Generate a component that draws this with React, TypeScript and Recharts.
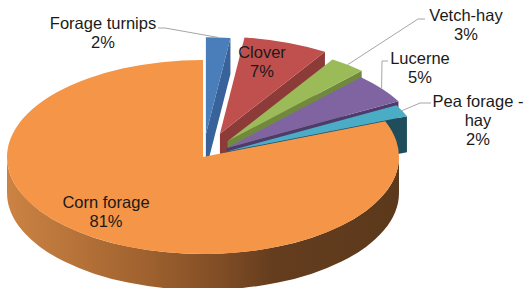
import { PieChart, Pie } from "recharts"

// slice data, clockwise from 12 o'clock
const categories = ["Forage turnips", "Clover", "Vetch-hay", "Lucerne", "Pea forage - hay", "Corn forage"]
const shares = [2, 7, 3, 5, 2, 81]

// styling
const topColors = ["#4a7ebb", "#c0504d", "#9bbb59", "#8064a2", "#4bacc6", "#f49547"]
const sideColors = ["#38629a", "#8c3b39", "#708a3d", "#4f3a6c", "#1f4d5c", "#a8652e"]
const explode = [46, 50, 40, 30, 24, 0]

// where each data label sits (first baseline), plus optional leader start
const labelLayout = [
  { x: 103, y: 29, wrap: 20, from: [158, 28], elbow: [165, 28] },
  { x: 262, y: 58, wrap: 20 },
  { x: 466, y: 21, wrap: 20, from: [425, 19], elbow: [418, 19] },
  { x: 420, y: 64, wrap: 20, from: [388, 61], elbow: [382, 61] },
  { x: 478, y: 107, wrap: 12, from: [431, 103], elbow: [420, 103] },
  { x: 106, y: 208, wrap: 20 },
]

const data = categories.map((name, i) => ({ name, value: shares[i] }))

const RAD = Math.PI / 180
const TILT = 0.495
const DEPTH = 36
const FONT = "'Liberation Sans', Arial, sans-serif"

function pt(cx: number, cy: number, r: number, a: number, dz = 0) {
  return [cx + r * Math.cos(a * RAD), cy - r * TILT * Math.sin(a * RAD) + dz]
}

// centre of a slice after it has been pulled out
function sliceCenter(p: any) {
  const e = explode[p.index] || 0
  return [p.cx + e * Math.cos(p.midAngle * RAD), p.cy - e * TILT * Math.sin(p.midAngle * RAD)]
}

function wrapText(text: string, max: number) {
  const out: string[] = []
  let line = ""
  text.split(" ").forEach((w) => {
    const next = line ? line + " " + w : w
    if (next.length > max && line) {
      out.push(line)
      line = w
    } else line = next
  })
  if (line) out.push(line)
  return out
}

// radial cut faces that look towards the viewer
function renderFaces(p: any) {
  const [cx, cy] = sliceCenter(p)
  const r = p.outerRadius
  const a1 = p.startAngle
  const a2 = p.endAngle
  const faces: number[] = []
  if (Math.cos(a1 * RAD) < -0.001) faces.push(a1)
  if (Math.cos(a2 * RAD) > 0.001) faces.push(a2)
  return (
    <g key={`f${p.index}`}>
      {faces.map((a) => {
        const [x, y] = pt(cx, cy, r, a)
        return (
          <path
            key={a}
            d={`M${cx},${cy} L${x},${y} L${x},${y + DEPTH} L${cx},${cy + DEPTH} Z`}
            fill={sideColors[p.index]}
          />
        )
      })}
    </g>
  )
}

// outer rim, only the front half can be seen
function renderWalls(p: any) {
  const [cx, cy] = sliceCenter(p)
  const r = p.outerRadius
  const ry = r * TILT
  const a1 = p.startAngle
  const a2 = p.endAngle
  const parts: string[] = []
  for (let k = -1; k <= 1; k++) {
    const lo = Math.max(a2, -180 + 360 * k)
    const hi = Math.min(a1, 360 * k)
    if (hi - lo > 0.01) {
      const [x1, y1] = pt(cx, cy, r, hi)
      const [x2, y2] = pt(cx, cy, r, lo)
      const large = hi - lo > 180 ? 1 : 0
      parts.push(
        `M${x1},${y1} A${r},${ry} 0 ${large} 1 ${x2},${y2} L${x2},${y2 + DEPTH} A${r},${ry} 0 ${large} 0 ${x1},${y1 + DEPTH} Z`
      )
    }
  }
  return (
    <g key={`w${p.index}`}>
      {parts.map((d, j) => (
        <path key={j} d={d} fill={p.index === 5 ? "url(#cornWall)" : sideColors[p.index]} />
      ))}
    </g>
  )
}

function renderTops(p: any) {
  const [cx, cy] = sliceCenter(p)
  const r = p.outerRadius
  const a1 = p.startAngle
  const a2 = p.endAngle
  const [x1, y1] = pt(cx, cy, r, a1)
  const [x2, y2] = pt(cx, cy, r, a2)
  const large = a1 - a2 > 180 ? 1 : 0
  return (
    <path
      key={`t${p.index}`}
      d={`M${cx},${cy} L${x1},${y1} A${r},${r * TILT} 0 ${large} 1 ${x2},${y2} Z`}
      fill={topColors[p.index]}
    />
  )
}

function renderLabels(p: any) {
  const lay = labelLayout[p.index]
  const lines = [...wrapText(p.name, lay.wrap), `${Math.round(p.percent * 100)}%`]
  let leader = null
  if (lay.from) {
    const [cx, cy] = sliceCenter(p)
    const [ex, ey] = pt(cx, cy, p.outerRadius, p.midAngle)
    leader = (
      <polyline
        points={`${lay.from[0]},${lay.from[1]} ${lay.elbow[0]},${lay.elbow[1]} ${ex},${ey}`}
        fill="none"
        stroke="#a6a6a6"
        strokeWidth={1}
      />
    )
  }
  return (
    <g key={`l${p.index}`}>
      {leader}
      <text x={lay.x} y={lay.y} textAnchor="middle" fontFamily={FONT} fontSize={16.5} fill="#1a1a1a">
        {lines.map((t, j) => (
          <tspan key={j} x={lay.x} dy={j === 0 ? 0 : 18.8}>
            {t}
          </tspan>
        ))}
      </text>
    </g>
  )
}

const layers = [renderFaces, renderWalls, renderTops, renderLabels]

export default function App() {
  return (
    <div style={{ width: 525, height: 288, background: "#fff" }}>
      <style>{"body{margin:0}"}</style>
      <PieChart width={525} height={288} margin={{ top: 0, right: 0, bottom: 0, left: 0 }}>
        <defs>
          <linearGradient id="cornWall" x1="0" y1="0" x2="1" y2="0">
            <stop offset="0" stopColor="#cc8343" />
            <stop offset="0.35" stopColor="#a0622f" />
            <stop offset="0.55" stopColor="#7f4c25" />
            <stop offset="0.68" stopColor="#643d1e" />
            <stop offset="1" stopColor="#5c391b" />
          </linearGradient>
        </defs>
        {layers.map((fn, i) => (
          <Pie
            key={i}
            data={data}
            dataKey="value"
            nameKey="name"
            cx={203}
            cy={157}
            outerRadius={196}
            startAngle={90}
            endAngle={-270}
            fill="none"
            stroke="none"
            label={fn}
            labelLine={false}
            isAnimationActive={false}
          />
        ))}
      </PieChart>
    </div>
  )
}
